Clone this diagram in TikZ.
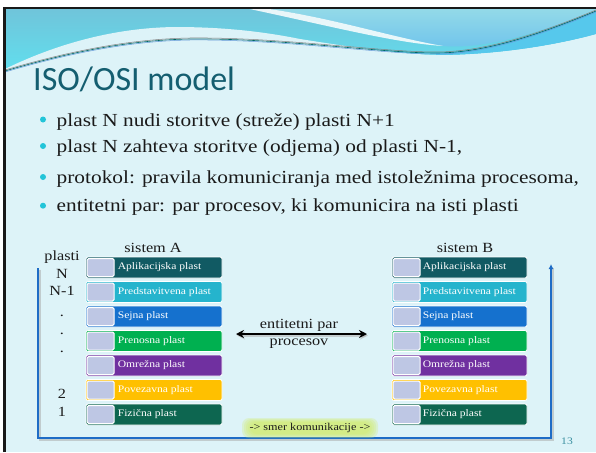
\documentclass[tikz,border=0pt]{standalone}
\usepackage{fontspec}
\setmainfont[FakeStretch=1.16]{Liberation Serif}
\newfontfamily\titlefont{Carlito}
\usetikzlibrary{arrows.meta,calc}
\definecolor{slidebg}{HTML}{DDF3F8}
\definecolor{hdrtop}{HTML}{70C4DA}
\definecolor{hdrbot}{HTML}{60E0EF}
\definecolor{dtop}{HTML}{94DAE8}
\definecolor{dbot}{HTML}{6EC3EC}
\definecolor{ecol}{HTML}{56C8EC}
\definecolor{titlecol}{HTML}{145E70}
\definecolor{bulletcol}{HTML}{22C4D8}
\definecolor{txtcol}{HTML}{1A1A1A}
\definecolor{sqcol}{HTML}{BEC7E4}
\definecolor{cA}{HTML}{115A63}
\definecolor{cB}{HTML}{25B4CD}
\definecolor{cC}{HTML}{1571CE}
\definecolor{cD}{HTML}{00B050}
\definecolor{cE}{HTML}{7030A0}
\definecolor{cF}{HTML}{FFC000}
\definecolor{cG}{HTML}{0D6650}
\definecolor{blueline}{HTML}{1E6CC6}
\definecolor{glow}{HTML}{D2EC6E}
\definecolor{pagecol}{HTML}{3A8FA0}
\begin{document}
\begin{tikzpicture}[x=1pt,y=-1pt,
  layerbox/.style={draw=white, line width=0.8pt, rounded corners=2pt, minimum height=21pt, inner sep=0pt},
  sqbox/.style={draw=white, line width=1pt, fill=sqcol, rounded corners=1.5pt, minimum width=27pt, minimum height=18pt, inner sep=0pt},
  lbl/.style={text=white, font=\fontsize{10}{12}\selectfont, inner sep=0pt, anchor=west},
  bodytxt/.style={text=txtcol, font=\fontsize{18.4}{22}\selectfont, inner sep=0pt, anchor=base west},
  sidetxt/.style={text=txtcol, font=\fontsize{14}{16}\selectfont, inner sep=0pt},
  bluel/.style={draw=blueline, line width=1.8pt},
  shadowl/.style={draw=black!35, line width=2pt, opacity=0.5}]
\useasboundingbox (0,0) rectangle (596,452);
\fill[white] (0,0) rectangle (596,452);
\fill[slidebg] (5,8) rectangle (596,452);
% header
\shade[top color=hdrtop, bottom color=hdrbot] (5,8) rectangle (596,75);
\fill[slidebg] (5,69) .. controls (40,52) and (100,28) .. (175,27)
  .. controls (230,27) and (270,33) .. (300,39)
  .. controls (350,47) and (400,54) .. (436,55)
  .. controls (500,55) and (560,44) .. (596,34) -- (596,80) -- (5,80) -- cycle;
\shade[top color=dtop, bottom color=dbot] (262,8) -- (596,8) -- (596,11)
  .. controls (550,28) and (490,50) .. (443,46)
  .. controls (390,37) and (330,17) .. (262,8) -- cycle;
\fill[white, opacity=0.85] (262,8) .. controls (330,17) and (390,37) .. (443,46)
  .. controls (395,43) and (330,26) .. (245,8) -- cycle;
\fill[ecol] (436,53) .. controls (490,53) and (550,30) .. (596,11) -- (596,34)
  .. controls (560,44) and (500,55) .. (436,55) -- cycle;
\draw[line width=0.6pt, draw=teal!80!black] (5,71) .. controls (70,52) and (130,40) .. (190,39)
  .. controls (280,38) and (380,53) .. (436,53) .. controls (490,53) and (550,30) .. (596,11);
\draw[line width=0.5pt, draw=gray] (5,70) .. controls (70,51) and (130,39) .. (190,38)
  .. controls (280,37) and (380,52) .. (436,52) .. controls (490,52) and (550,29) .. (596,10);
\draw[line width=0.5pt, draw=blueline!70] (5,72) .. controls (70,53) and (130,41) .. (190,40)
  .. controls (280,39) and (380,54) .. (436,54) .. controls (490,54) and (550,31) .. (596,12);
% slide border
\draw[line width=2.4pt, draw=black!90] (4.5,452) -- (4.5,8) -- (596,8);
% title
\node[anchor=base west, inner sep=0pt, text=titlecol, font=\titlefont\fontsize{34}{40}\selectfont] (title) at (33,90) {ISO/OSI model};
% bullets
\foreach \i/\yb/\yd/\t in {1/126/119.5/{plast N nudi storitve (streže) plasti N+1},
                          2/152.7/146/{plast N zahteva storitve (odjema) od plasti N-1,},
                          3/183.3/177/{protokol: pravila komuniciranja med istoležnima procesoma,},
                          4/211/205.7/{entitetni par: par procesov, ki komunicira na isti plasti}}{
  \fill[bulletcol] (43,\yd) circle (3pt);
  \node[bodytxt] (b\i) at (56.5,\yb) {\t};
}
% blue L arrow with shadow
\coordinate (l1) at (38,268);
\coordinate (l2) at (38,438);
\coordinate (l3) at (551,438);
\coordinate (l4) at (551,264);
\draw[shadowl] ($(l1)+(1.5,1.5)$) -- ($(l2)+(1.5,1.5)$) -- ($(l3)+(1.5,1.5)$) -- ($(l4)+(1.5,4)$);
\draw[bluel, -{Latex[length=5pt,width=5pt]}] (l1) -- (l2) -- (l3) -- (l4);
% side labels
\node[sidetxt] (plasti) at (62,257) {plasti};
\node[sidetxt] (sN) at (62,274) {N};
\node[sidetxt] (sN1) at (62,291) {N-1};
\node[sidetxt] (d1) at (62,316) {.};
\node[sidetxt] (d2) at (62,334) {.};
\node[sidetxt] (d3) at (62,352) {.};
\node[sidetxt] (s2) at (62,394) {2};
\node[sidetxt] (s1) at (62,412) {1};
\node[sidetxt] (sysA) at (153,248) {sistem A};
\node[sidetxt] (sysB) at (465,248) {sistem B};
% layer boxes
\foreach \i/\c/\t in {1/cA/Aplikacijska plast, 2/cB/Predstavitvena plast, 3/cC/Sejna plast,
                      4/cD/Prenosna plast, 5/cE/Omrežna plast, 6/cF/Povezavna plast, 7/cG/Fizična plast}{
  \pgfmathsetmacro\yy{267.5+24.5*(\i-1)}
  \node[layerbox, fill=\c, minimum width=136pt] (A\i) at (154,\yy) {};
  \node[sqbox] (As\i) at ($(A\i.west)+(15,0)$) {};
  \node[lbl] (At\i) at ($(A\i.west)+(32,0)$) {\t};
  \node[layerbox, fill=\c, minimum width=135pt] (B\i) at (459.5,\yy) {};
  \node[sqbox] (Bs\i) at ($(B\i.west)+(15,0)$) {};
  \node[lbl] (Bt\i) at ($(B\i.west)+(31,0)$) {\t};
}
% middle double arrow
\coordinate (ml) at (236,334);
\coordinate (mr) at (367,334);
\draw[line width=2pt, draw=black!30, opacity=0.6, {Stealth[length=8pt,width=8pt]}-{Stealth[length=8pt,width=8pt]}] ($(ml)+(1,1.5)$) -- ($(mr)+(1,1.5)$);
\draw[line width=2pt, {Stealth[length=8pt,width=8pt]}-{Stealth[length=8pt,width=8pt]}] (ml) -- (mr);
\node[sidetxt] (ep1) at (299,325) {entitetni par};
\node[sidetxt] (ep2) at (299,344) {procesov};
% direction label with glow
\foreach \w/\h in {68/10, 66/9, 64/8, 62/7, 60/6}{
  \fill[glow, opacity=0.28, rounded corners=7pt] (310-\w,428-\h) rectangle (310+\w,428+\h);
}
\node[text=txtcol, font=\fontsize{10.5}{12}\selectfont, inner sep=0pt] (smer) at (310,428) {-> smer komunikacije ->};
\node[text=pagecol, font=\fontsize{10}{12}\selectfont, inner sep=0pt] (pg) at (567,441) {13};
\end{tikzpicture}
\end{document}
